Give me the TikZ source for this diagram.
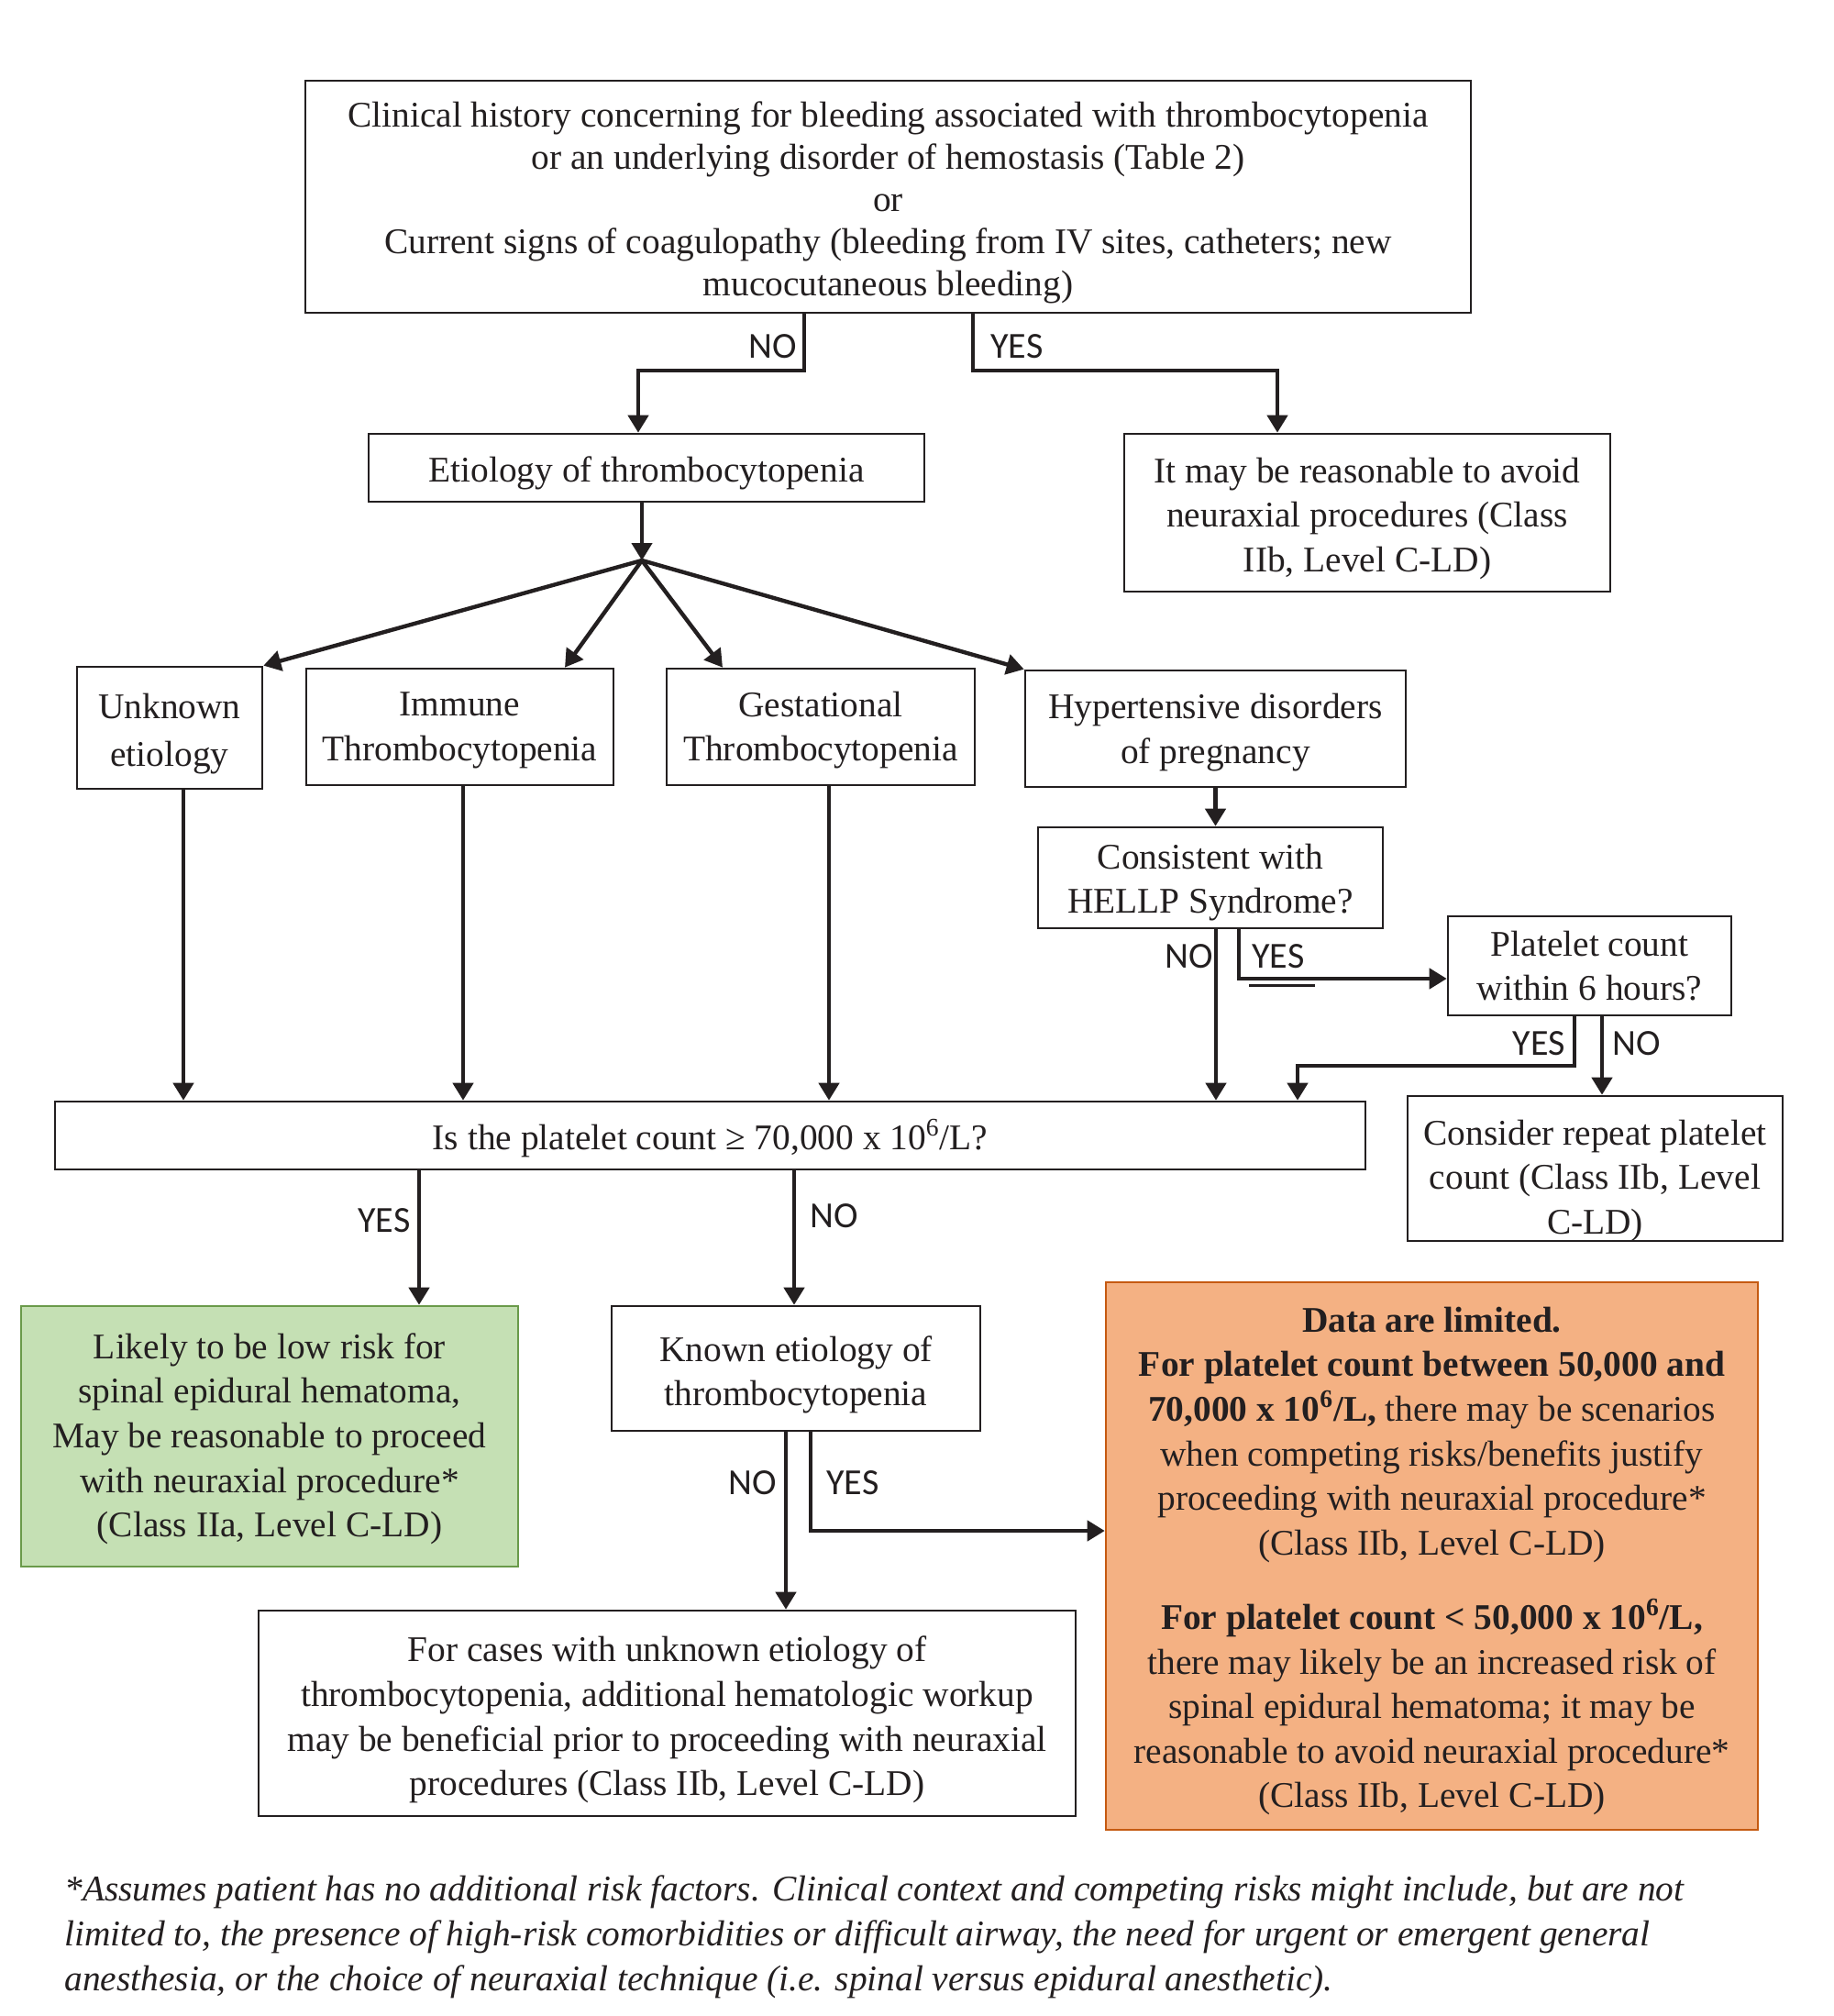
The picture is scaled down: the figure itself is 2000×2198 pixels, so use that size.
\documentclass[tikz,border=0pt]{standalone}
\usepackage{fontspec}
\setmainfont{Liberation Serif}
\newfontfamily\lblfont{Carlito}
\usetikzlibrary{arrows.meta}
\definecolor{greenfill}{HTML}{C5E0B4}
\definecolor{greenline}{HTML}{6A9A4A}
\definecolor{orangefill}{HTML}{F4B183}
\definecolor{orangeline}{HTML}{C55A11}
\definecolor{ink}{HTML}{231F20}
\begin{document}
\begin{tikzpicture}[x=0.5pt,y=-0.5pt,
  box/.style={draw=ink, line width=1.3pt, fill=white, inner sep=0pt},
  txt/.style={align=center, inner sep=0pt, text=ink, font=\fontsize{19.7}{24.3}\selectfont},
  arr/.style={draw=ink, line width=2.2pt, -{Triangle[length=9.5pt,width=11pt]}},
  lbl/.style={font=\lblfont\fontsize{20}{24}\selectfont, text=ink, inner sep=0pt},
  foot/.style={font=\itshape\fontsize{19.7}{24}\selectfont, text=ink, inner sep=0pt, anchor=base west},
]
\fill[white] (0,0) rectangle (2000,2198);
\useasboundingbox (0,0) rectangle (2000,2198);

% boxes
\node[box, minimum width=635.5pt, minimum height=126.5pt] (top) at (968.5,214.5) {};
\node[txt, font=\fontsize{19.7}{23}\selectfont] (topt) at ([yshift=-3pt]top.center)
  {Clinical history concerning for bleeding associated with thrombocytopenia\\or an underlying disorder of hemostasis (Table 2)\\or\\Current signs of coagulopathy (bleeding from IV sites, catheters; new\\mucocutaneous bleeding)};

\node[box, minimum width=303pt, minimum height=37pt] (etio) at (705,510) {};
\node[txt] (etiot) at ([yshift=-2.8pt]etio.center) {Etiology of thrombocytopenia};

\node[box, minimum width=265pt, minimum height=86pt] (itmay) at (1491,559) {};
\node[txt] (itmayt) at ([yshift=-3.2pt]itmay.center) {It may be reasonable to avoid\\neuraxial procedures (Class\\IIb, Level C-LD)};

\node[box, minimum width=101pt, minimum height=66.5pt] (unk) at (185,793.5) {};
\node[txt, font=\fontsize{19.7}{26}\selectfont] (unkt) at ([yshift=-3.5pt]unk.center) {Unknown\\etiology};

\node[box, minimum width=167.5pt, minimum height=63.5pt] (imm) at (501.5,792.5) {};
\node[txt] (immt) at ([yshift=-1.8pt]imm.center) {Immune\\Thrombocytopenia};

\node[box, minimum width=168pt, minimum height=63.5pt] (gest) at (895,792.5) {};
\node[txt] (gestt) at ([yshift=-1.8pt]gest.center) {Gestational\\Thrombocytopenia};

\node[box, minimum width=207.5pt, minimum height=63.5pt] (hyp) at (1325.5,794.5) {};
\node[txt] (hypt) at ([yshift=-2.1pt]hyp.center) {Hypertensive disorders\\of pregnancy};

\node[box, minimum width=188pt, minimum height=55pt] (cons) at (1320,957) {};
\node[txt] (const) at ([yshift=-2.5pt]cons.center) {Consistent with\\HELLP Syndrome?};

\node[box, minimum width=154.5pt, minimum height=54pt] (plt6) at (1733.5,1053) {};
\node[txt] (plt6t) at (plt6.center) {Platelet count\\within 6 hours?};

\node[box, minimum width=714.5pt, minimum height=37pt] (q) at (774.5,1238) {};
\node[txt] (qt) at ([yshift=-1.4pt]q.center) {Is the platelet count ≥ 70,000 x 10\textsuperscript{6}/L?};

\node[box, minimum width=204.5pt, minimum height=79pt] (consider) at (1739.5,1274) {};
\node[txt] (considert) at ([yshift=-6.7pt]consider.center) {Consider repeat platelet\\count (Class IIb, Level\\C-LD)};

\node[box, draw=greenline, fill=greenfill, minimum width=271pt, minimum height=142pt] (green) at (294,1566) {};
\node[txt] (greent) at ([yshift=-1.4pt]green.center)
  {Likely to be low risk for\\spinal epidural hematoma,\\May be reasonable to proceed\\with neuraxial procedure*\\(Class IIa, Level C-LD)};

\node[box, minimum width=201pt, minimum height=68pt] (known) at (868,1492) {};
\node[txt] (knownt) at ([yshift=-3.5pt]known.center) {Known etiology of\\thrombocytopenia};

\node[box, draw=orangeline, fill=orangefill, minimum width=355.5pt, minimum height=298.5pt] (orange) at (1561.5,1696.5) {};
\node[txt] (oranget) at ([yshift=-2.8pt]orange.center)
  {{\bfseries Data are limited.}\\
   {\bfseries For platelet count between 50,000 and}\\
   {\bfseries 70,000 x 10\textsuperscript{6}/L,} there may be scenarios\\
   when competing risks/benefits justify\\
   proceeding with neuraxial procedure*\\
   (Class IIb, Level C-LD)\\[16.3pt]
   {\bfseries For platelet count < 50,000 x 10\textsuperscript{6}/L,}\\
   there may likely be an increased risk of\\
   spinal epidural hematoma; it may be\\
   reasonable to avoid neuraxial procedure*\\
   (Class IIb, Level C-LD)};

\node[box, minimum width=445.5pt, minimum height=112pt] (unkc) at (727.5,1868) {};
\node[txt] (unkct) at ([yshift=-3.5pt]unkc.center)
  {For cases with unknown etiology of\\thrombocytopenia, additional hematologic workup\\may be beneficial prior to proceeding with neuraxial\\procedures (Class IIb, Level C-LD)};

% connectors
\coordinate (j) at (700,611);
\draw[arr] (top.south -| 877,0) -- (877,404) -| (etio.north -| 696,0);
\draw[arr] (top.south -| 1061,0) -- (1061,404) -| (itmay.north -| 1393,0);
\node[lbl] (lno1) at (843,378) {NO};
\node[lbl] (lyes1) at (1109,378) {YES};

\draw[arr] (etio.south -| j) -- (j);
\draw[arr] (j) -- (unk.north east);
\draw[arr] (j) -- (616,0 |- imm.north);
\draw[arr] (j) -- (788,0 |- gest.north);
\draw[arr] (j) -- (hyp.north west);

\draw[arr] (unk.south -| 200,0) -- (q.north -| 200,0);
\draw[arr] (imm.south -| 505,0) -- (q.north -| 505,0);
\draw[arr] (gest.south -| 904,0) -- (q.north -| 904,0);
\draw[arr] (hyp.south) -- (hyp.south |- cons.north);

\draw[arr] (cons.south -| 1326,0) -- (q.north -| 1326,0);
\draw[arr] (cons.south -| 1351,0) |- (plt6.west |- 0,1067);
\draw[draw=ink, line width=1.5pt] (1362,1074) -- (1434,1074);
\node[lbl] (lno2) at (1297,1043) {NO};
\node[lbl] (lyes2) at (1394,1043) {YES};

\draw[arr] (plt6.south -| 1717,0) -- (1717,1162) -| (q.north -| 1415,0);
\draw[arr] (plt6.south -| 1747,0) -- (consider.north -| 1747,0);
\node[lbl] (lyes3) at (1678,1138) {YES};
\node[lbl] (lno3) at (1785,1138) {NO};

\draw[arr] (q.south -| 457,0) -- (green.north -| 457,0);
\draw[arr] (q.south -| 866,0) -- (known.north -| 866,0);
\node[lbl] (lyes4) at (419,1331) {YES};
\node[lbl] (lno4) at (910,1326) {NO};

\draw[arr] (known.south -| 857,0) -- (unkc.north -| 857,0);
\draw[arr] (known.south -| 884,0) |- (orange.west |- 0,1669);
\node[lbl] (lno5) at (821,1617) {NO};
\node[lbl] (lyes5) at (930,1617) {YES};

% footnote
\node[foot] (f1) at (70,2072) {*Assumes patient has no additional risk factors. Clinical context and competing risks might include, but are not};
\node[foot] (f2) at (70,2121) {limited to, the presence of high-risk comorbidities or difficult airway, the need for urgent or emergent general};
\node[foot] (f3) at (70,2170) {anesthesia, or the choice of neuraxial technique (i.e. spinal versus epidural anesthetic).};
\end{tikzpicture}
\end{document}
